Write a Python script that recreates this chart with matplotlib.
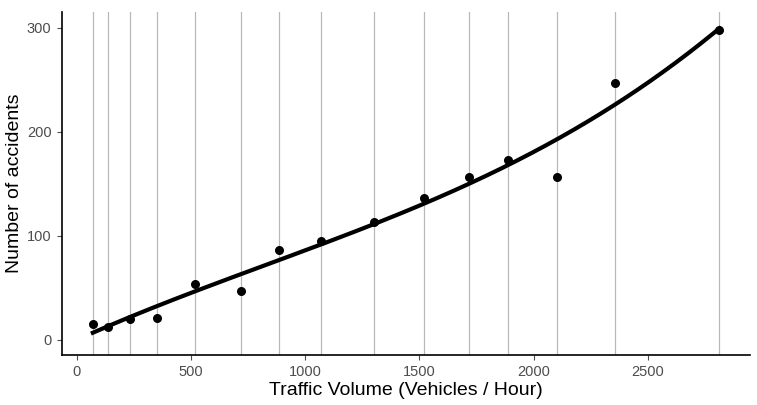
import numpy as np
import matplotlib
matplotlib.use("Agg")
import matplotlib.pyplot as plt

plt.rcParams['font.family'] = ['Liberation Sans', 'DejaVu Sans']

# traffic volume (vehicles / hour) and number of accidents
traffic = [70, 138, 232, 350, 519, 718, 884, 1069, 1301, 1521, 1716, 1889, 2101, 2356, 2813]
accidents = [15, 12, 20, 21, 54, 47, 86, 95, 113, 136, 156, 173, 156, 247, 298]

x_ticks = [0, 500, 1000, 1500, 2000, 2500]
y_ticks = [0, 100, 200, 300]

x = np.array(traffic, dtype=float)
y = np.array(accidents, dtype=float)

# smooth fit (cubic polynomial)
coef = np.polyfit(x, y, 3)
xs = np.linspace(x.min(), x.max(), 300)
ys = np.polyval(coef, xs)

fig = plt.figure(figsize=(7.57, 4.05), dpi=100)
ax = fig.add_axes([0.0819, 0.1235, 0.9089, 0.8469])

for xv in traffic:
    ax.axvline(xv, color="#b8b8b8", lw=0.9, zorder=1)

ax.scatter(x, y, s=30, color="black", zorder=3)
ax.plot(xs, ys, color="black", lw=3, zorder=2)

ax.set_xlim(-65, 2947)
ax.set_ylim(-14.7, 315)
ax.set_xticks(x_ticks)
ax.set_yticks(y_ticks)
ax.tick_params(colors="#4d4d4d", labelsize=10.5, length=3.5, width=0.8, pad=4)

ax.set_xlabel("Traffic Volume (Vehicles / Hour)", fontsize=14, labelpad=2)
ax.set_ylabel("Number of accidents", fontsize=14, labelpad=3)

ax.spines['top'].set_visible(False)
ax.spines['right'].set_visible(False)
ax.spines['left'].set_linewidth(1.2)
ax.spines['bottom'].set_linewidth(1.2)

fig.savefig("out.png", dpi=100)
plt.close()
